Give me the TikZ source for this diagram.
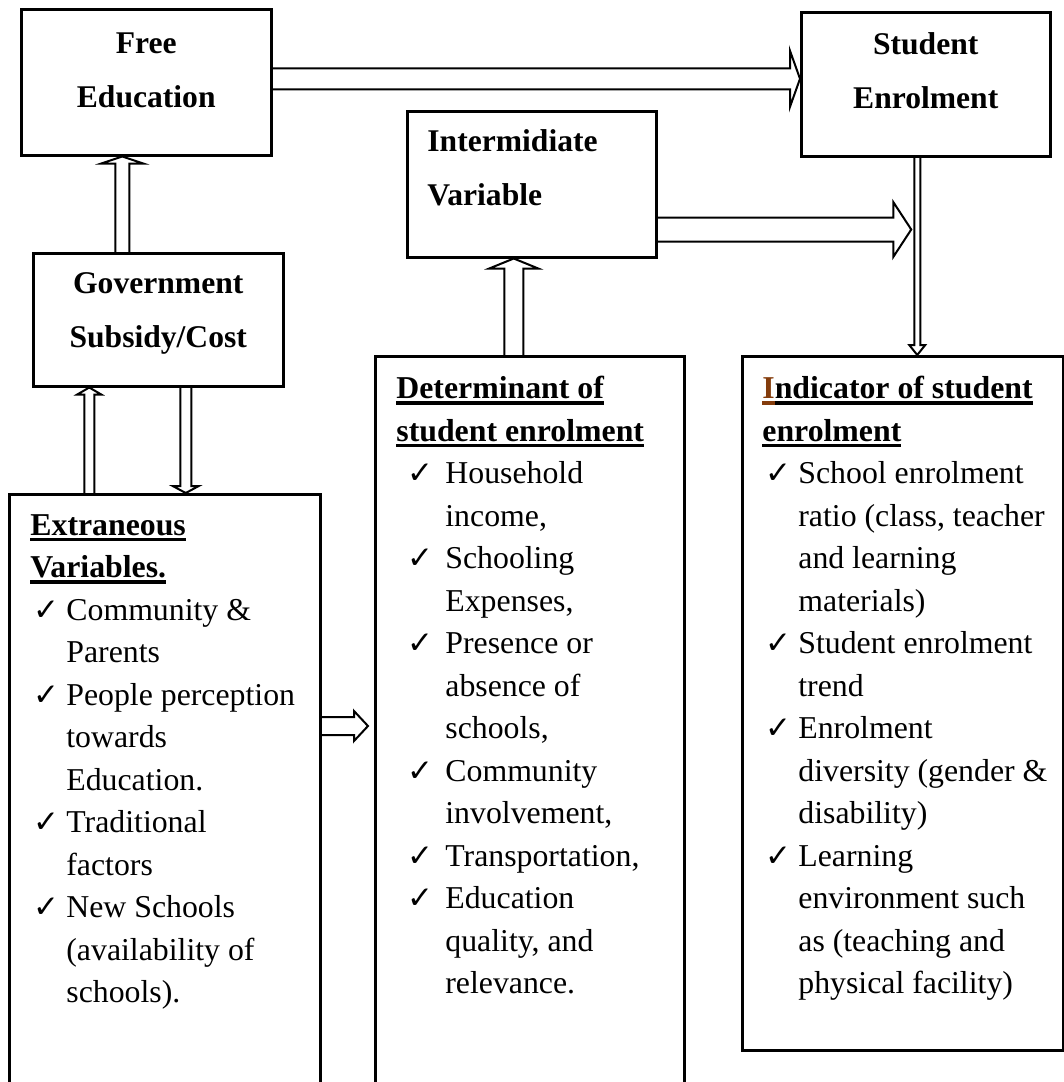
\documentclass[tikz,border=0pt]{standalone}
\usepackage{fontspec}
\setmainfont{Liberation Serif}
\newfontfamily\symfont{DejaVu Sans}
\usepackage{xcolor}
\usetikzlibrary{calc}
\definecolor{ibrown}{HTML}{843C0C}
\definecolor{frameink}{HTML}{000000}

\newsavebox{\ulbox}
\newcommand{\uln}[1]{\sbox{\ulbox}{#1}\rlap{\rule[-3pt]{\wd\ulbox}{1.8pt}}\usebox{\ulbox}}
\newcommand{\titlefont}{\fontsize{15.8}{27}\selectfont\bfseries}
\newcommand{\bodyfont}{\fontsize{15.9}{21.25}\selectfont}
\newcommand{\chk}{{\symfont\bfseries\fontsize{15.5}{12}\selectfont ✓}}
\newlength{\tickin}
\newlength{\textin}
\newcommand{\tickitem}{\hspace*{\tickin}\makebox[\dimexpr\textin-\tickin\relax][l]{\chk}}
\newcommand{\contline}{\hspace*{\textin}}

% hollow double-line arrow: start, end, shaft half width, head half width, head length
\newcommand{\fatarrow}[5]{%
  \coordinate (fa-s) at (#1);
  \coordinate (fa-e) at (#2);
  \coordinate (fa-h) at ($(fa-e)!#5!(fa-s)$);
  \draw[arrowline] ($(fa-s)!#3!90:(fa-e)$) -- ($(fa-h)!#3!-90:(fa-s)$) -- ($(fa-h)!#4!-90:(fa-s)$)
    -- (fa-e) -- ($(fa-h)!#4!90:(fa-s)$) -- ($(fa-h)!#3!90:(fa-s)$) -- ($(fa-s)!#3!-90:(fa-e)$);
}

\tikzset{
  panel/.style={draw=frameink,line width=1.25pt,inner sep=0pt,anchor=north west},
  titletxt/.style={inner sep=0pt,font=\titlefont},
  listtxt/.style={inner sep=0pt,anchor=north west,text width=165pt,align=flush left,font=\bodyfont},
  arrowline/.style={draw=frameink,line width=1pt,line join=miter},
}

\begin{document}
\begin{tikzpicture}[x=0.5pt,y=-0.5pt]
  \useasboundingbox (0,0) rectangle (1064,1082);
  \clip (0,0) rectangle (1064,1082);

  % boxes
  \node[panel,minimum width=125pt,minimum height=73pt] (fe) at (20,8) {};
  \node[panel,minimum width=124.5pt,minimum height=72pt] (se) at (800,11) {};
  \node[panel,minimum width=124.5pt,minimum height=73pt] (iv) at (406,110) {};
  \node[panel,minimum width=125pt,minimum height=66.5pt] (gov) at (32,252) {};
  \node[panel,minimum width=155.5pt,minimum height=310pt] (ext) at (8,493) {};
  \node[panel,minimum width=154.5pt,minimum height=380pt] (det) at (374,355) {};
  \node[panel,minimum width=160.5pt,minimum height=347pt] (ind) at (741,355) {};

  % titles
  \node[titletxt,anchor=north,align=center] (fetxt) at ($(fe.north)+(0,24.5)$) {Free\\Education};
  \node[titletxt,anchor=north,align=center] (setxt) at ($(se.north)+(0,21)$) {Student\\Enrolment};
  \node[titletxt,anchor=north west,align=left] (ivtxt) at ($(iv.north west)+(21,19)$) {Intermidiate\\Variable};
  \node[titletxt,anchor=north,align=center] (govtxt) at ($(gov.north)+(0,20)$) {Government\\Subsidy/Cost};

  % lists
  \node[listtxt] (exttxt) at ($(ext.north west)+(22,21)$) {%
    \setlength{\tickin}{1.5pt}\setlength{\textin}{18pt}%
    \textbf{\uln{Extraneous}}\\
    \textbf{\uln{Variables.}}\\
    \tickitem Community \&\\
    \contline Parents\\
    \tickitem People perception\\
    \contline towards\\
    \contline Education.\\
    \tickitem Traditional\\
    \contline factors\\
    \tickitem New Schools\\
    \contline (availability of\\
    \contline schools).};
  \node[listtxt] (dettxt) at ($(det.north west)+(22,21)$) {%
    \setlength{\tickin}{5.5pt}\setlength{\textin}{24.5pt}%
    \textbf{\uln{Determinant of}}\\
    \textbf{\uln{student enrolment}}\\
    \tickitem Household\\
    \contline income,\\
    \tickitem Schooling\\
    \contline Expenses,\\
    \tickitem Presence or\\
    \contline absence of\\
    \contline schools,\\
    \tickitem Community\\
    \contline involvement,\\
    \tickitem Transportation,\\
    \tickitem Education\\
    \contline quality, and\\
    \contline relevance.};
  \node[listtxt] (indtxt) at ($(ind.north west)+(21,21)$) {%
    \setlength{\tickin}{1.5pt}\setlength{\textin}{18pt}%
    \textbf{{\color{ibrown}\uln{I}}\uln{ndicator of student}}\\
    \textbf{\uln{enrolment}}\\
    \tickitem School enrolment\\
    \contline ratio (class, teacher\\
    \contline and learning\\
    \contline materials)\\
    \tickitem Student enrolment\\
    \contline trend\\
    \tickitem Enrolment\\
    \contline diversity (gender \&\\
    \contline disability)\\
    \tickitem Learning\\
    \contline environment such\\
    \contline as (teaching and\\
    \contline physical facility)};

  % arrow ends
  \coordinate (feout) at ($(fe.east)+(0,-3.5)$);
  \coordinate (sein) at (feout -| se.west);
  \coordinate (dn) at ($(se.south)+(-8.5,0)$);
  \coordinate (ivout) at ($(iv.south east)+(0,-29)$);
  \coordinate (vline) at (ivout -| dn);
  \coordinate (vhit) at ($(vline)+(-6,0)$);
  \coordinate (detup) at ($(det.north)+(-16,0)$);
  \coordinate (govup) at ($(gov.north)+(-36,0)$);
  \coordinate (extup) at ($(gov.south)+(-69,0)$);
  \coordinate (govdn) at ($(gov.south)+(27.5,0)$);
  \coordinate (extout) at ($(ext.north east)+(0,233)$);
  \coordinate (detedge) at (extout -| det.west);
  \coordinate (detin) at ($(detedge)+(-6,0)$);

  % arrows
  \fatarrow{feout}{sein}{5.25pt}{14pt}{5pt}
  \fatarrow{ivout}{vhit}{6pt}{13.75pt}{9pt}
  \fatarrow{dn}{dn|-ind.north}{1.5pt}{4pt}{5pt}
  \fatarrow{detup}{detup|-iv.south}{4.75pt}{12.25pt}{5pt}
  \fatarrow{govup}{govup|-fe.south}{3.5pt}{10.5pt}{3.5pt}
  \fatarrow{extup|-ext.north}{extup}{2.5pt}{6pt}{3.5pt}
  \fatarrow{govdn}{govdn|-ext.north}{2.75pt}{6.5pt}{3.5pt}
  \fatarrow{extout}{detin}{4.5pt}{7.5pt}{7pt}
\end{tikzpicture}
\end{document}
